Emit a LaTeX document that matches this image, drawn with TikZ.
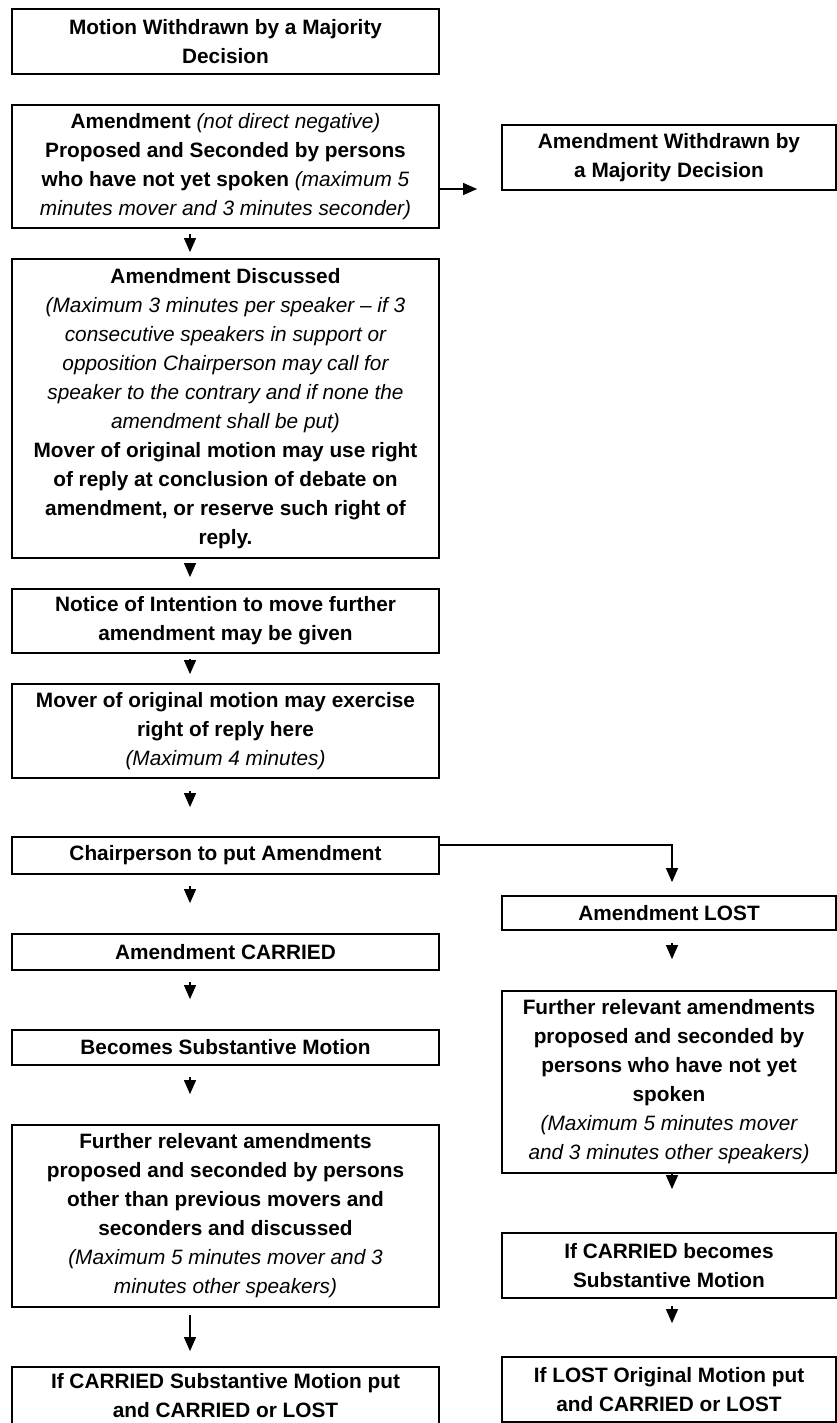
\documentclass[tikz,border=0pt]{standalone}
\usepackage{fontspec}
\setmainfont{Liberation Sans}
\usetikzlibrary{arrows.meta,calc}
\newcommand\itx[1]{{\mdseries\itshape #1}}
\begin{document}
\begin{tikzpicture}[x=1pt,y=-1pt,
 box/.style={draw, line width=1.8pt, inner sep=0pt, align=center, font=\fontsize{20.8}{29}\selectfont\bfseries},
 lbox/.style={box, minimum width=427pt},
 rbox/.style={box, minimum width=334pt},
 arr/.style={-{Triangle[width=12pt,length=14pt]}, line width=1.2pt}]
\fill[white] (0,0) rectangle (837,1423);
\useasboundingbox (0,0) rectangle (837,1423);

% left column
\node[lbox, minimum height=65pt] (L1) at (225.5,41.5) {Motion Withdrawn by a Majority\\Decision};
\node[lbox, minimum height=123pt] (L2) at (225.5,166.5) {Amendment \itx{(not direct negative)}\\Proposed and Seconded by persons\\who have not yet spoken \itx{(maximum 5}\\\itx{minutes mover and 3 minutes seconder)}};
\node[lbox, minimum height=299pt] (L3) at (225.5,408.5) {Amendment Discussed\\\itx{(Maximum 3 minutes per speaker -- if 3}\\\itx{consecutive speakers in support or}\\\itx{opposition Chairperson may call for}\\\itx{speaker to the contrary and if none the}\\\itx{amendment shall be put)}\\Mover of original motion may use right\\of reply at conclusion of debate on\\amendment, or reserve such right of\\reply.};
\node[lbox, minimum height=64pt] (L4) at (225.5,621) {Notice of Intention to move further\\amendment may be given};
\node[lbox, minimum height=94pt] (L5) at (225.5,731) {Mover of original motion may exercise\\right of reply here\\\itx{(Maximum 4 minutes)}};
\node[lbox, minimum height=37pt] (L6) at (225.5,855.5) {Chairperson to put Amendment};
\node[lbox, minimum height=36pt] (L7) at (225.5,952) {Amendment CARRIED};
\node[lbox, minimum height=35pt] (L8) at (225.5,1047.5) {Becomes Substantive Motion};
\node[lbox, minimum height=182pt] (L9) at (225.5,1216) {Further relevant amendments\\proposed and seconded by persons\\other than previous movers and\\seconders and discussed\\\itx{(Maximum 5 minutes mover and 3}\\\itx{minutes other speakers)}};
\node[lbox, minimum height=58pt] (L10) at (225.5,1396) {If CARRIED Substantive Motion put\\and CARRIED or LOST};

% right column
\node[rbox, minimum height=65pt] (R1) at (669,157.5) {Amendment Withdrawn by\\a Majority Decision};
\node[rbox, minimum height=34pt] (R2) at (669,913) {Amendment LOST};
\node[rbox, minimum height=182pt] (R3) at (669,1082) {Further relevant amendments\\proposed and seconded by\\persons who have not yet\\spoken\\\itx{(Maximum 5 minutes mover}\\\itx{and 3 minutes other speakers)}};
\node[rbox, minimum height=65pt] (R4) at (669,1265.5) {If CARRIED becomes\\Substantive Motion};
\node[rbox, minimum height=65pt] (R5) at (669,1389.5) {If LOST Original Motion put\\and CARRIED or LOST};

% helper coordinates
\coordinate (ax) at (190,0);
\coordinate (rx) at (672,0);
\coordinate (hy) at (0,189);
\coordinate (ey) at (0,845);

% left arrows
\draw[arr, shorten <=5pt, shorten >=6pt] (L2.south -| ax) -- (L3.north -| ax);
\draw[arr, shorten <=4pt, shorten >=11pt] (L3.south -| ax) -- (L4.north -| ax);
\draw[arr, shorten <=5pt, shorten >=9pt] (L4.south -| ax) -- (L5.north -| ax);
\draw[arr, shorten <=12pt, shorten >=29pt] (L5.south -| ax) -- (L6.north -| ax);
\draw[arr, shorten <=11pt, shorten >=30pt] (L6.south -| ax) -- (L7.north -| ax);
\draw[arr, shorten <=11pt, shorten >=30pt] (L7.south -| ax) -- (L8.north -| ax);
\draw[arr, shorten <=11pt, shorten >=30pt] (L8.south -| ax) -- (L9.north -| ax);
\draw[arr, shorten <=7pt, shorten >=15pt] (L9.south -| ax) -- (L10.north -| ax);

% side arrows
\draw[arr, shorten >=24pt] (L2.east |- hy) -- (R1.west |- hy);
\draw[arr, shorten >=13pt] (L6.east |- ey) -| (R2.north -| rx);

% right arrows
\draw[arr, shorten <=12pt, shorten >=31pt] (R2.south -| rx) -- (R3.north -| rx);
\draw[arr, shorten >=43pt] (R3.south -| rx) -- (R4.north -| rx);
\draw[arr, shorten <=7pt, shorten >=33pt] (R4.south -| rx) -- (R5.north -| rx);
\end{tikzpicture}
\end{document}
